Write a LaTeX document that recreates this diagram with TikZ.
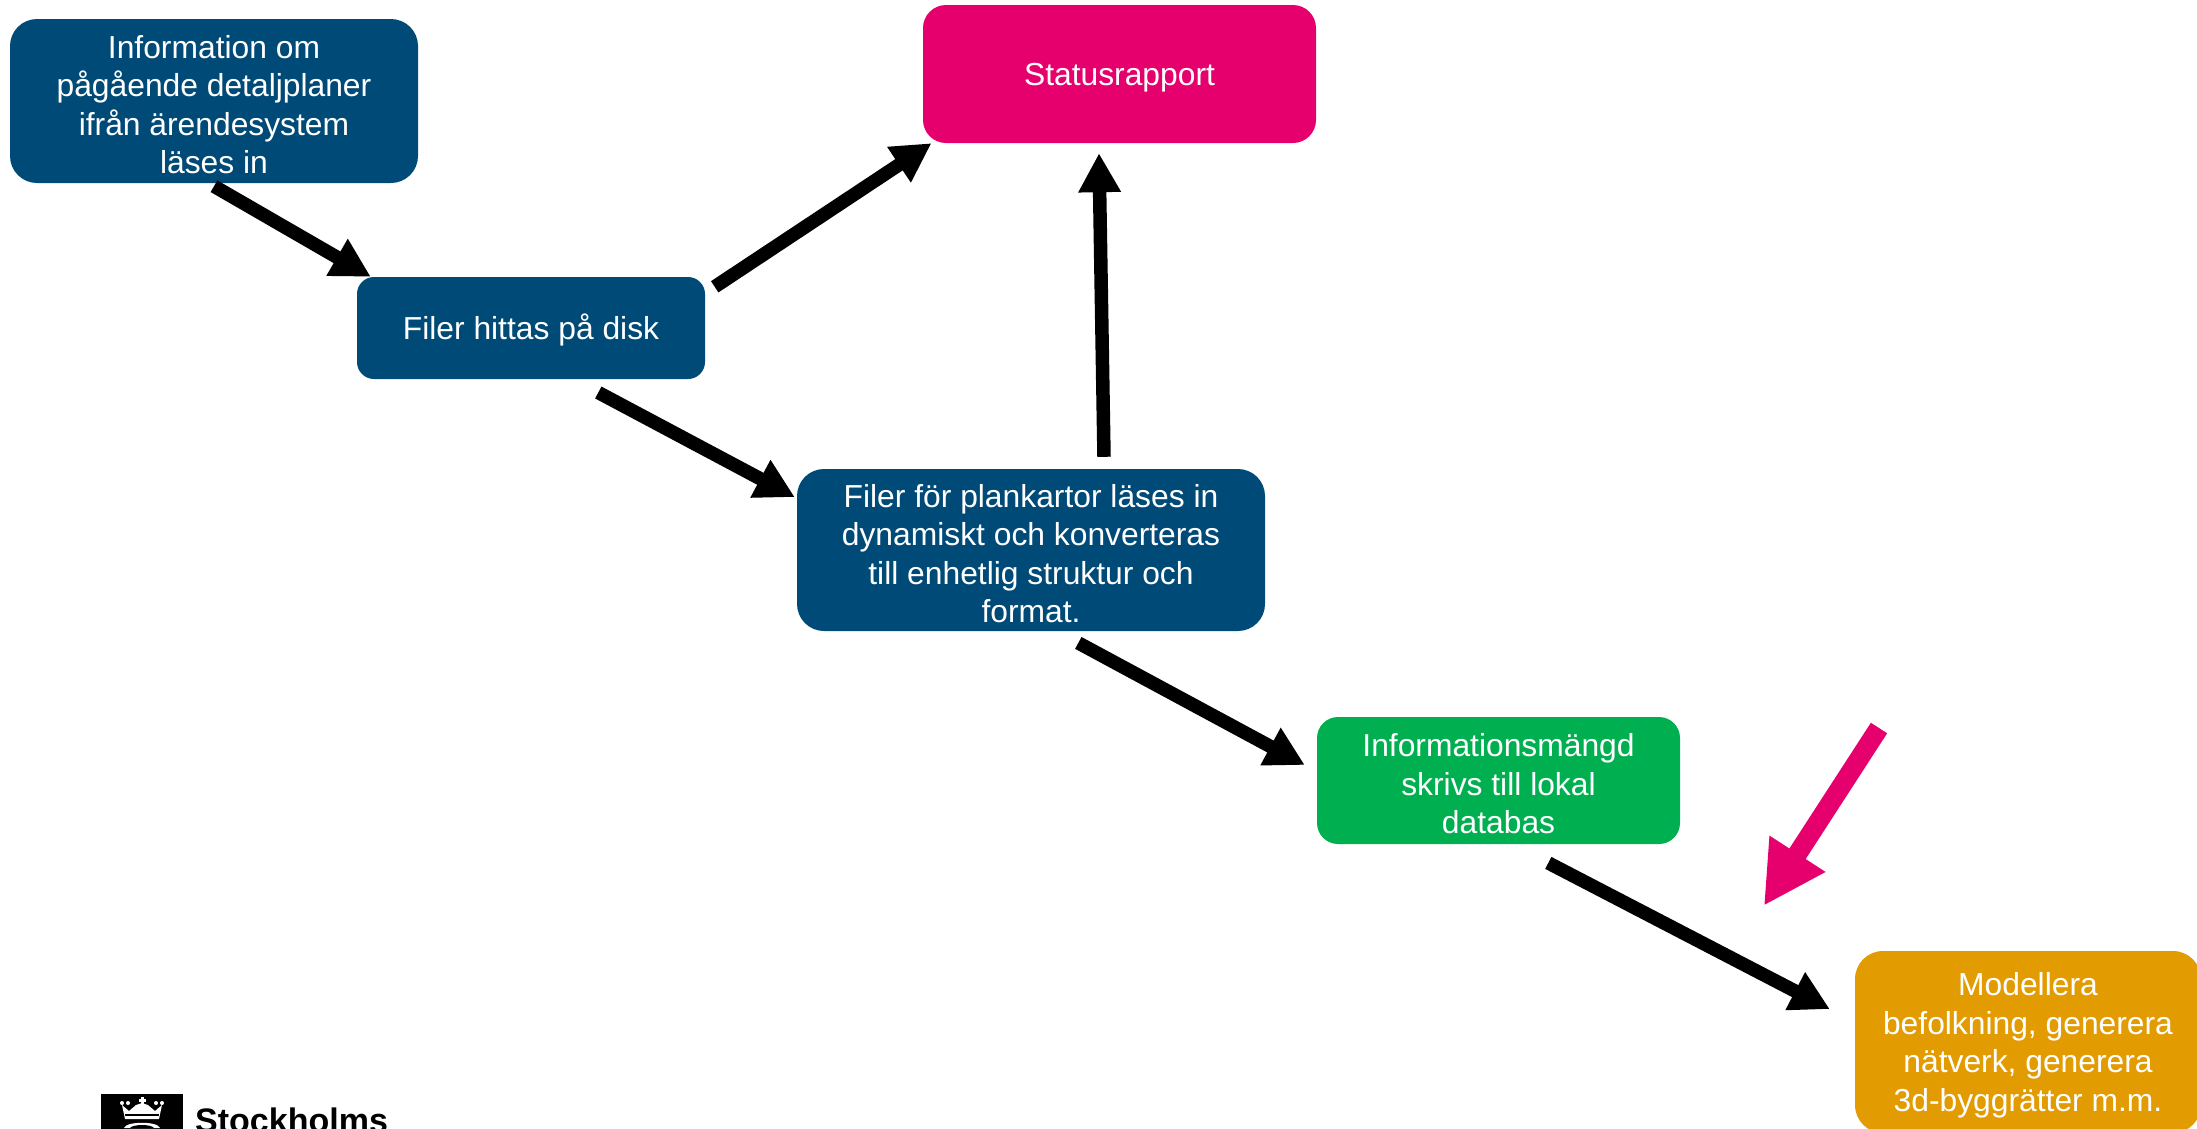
\documentclass[tikz,border=0pt]{standalone}
\usepackage{fontspec}
\setmainfont{Liberation Sans}
\usetikzlibrary{arrows.meta,calc}
\definecolor{sthblue}{RGB}{0,74,119}
\definecolor{sthpink}{RGB}{230,0,110}
\definecolor{sthgreen}{RGB}{0,176,80}
\definecolor{sthorange}{RGB}{226,155,0}
\newcommand{\topstrut}{\rule{0pt}{30pt}}
\begin{document}
\begin{tikzpicture}[x=1pt,y=-1pt,
  box/.style={rectangle, rounded corners=#1, text=white, align=center,
    font=\fontsize{31.8}{38.5}\selectfont, inner sep=0pt},
  conn/.style={line width=13.5pt, black, -{Triangle[width=40pt,length=39pt]}},
  pinkconn/.style={line width=19.4pt, sthpink, -{Triangle[width=62pt,length=62pt]}},
  logotxt/.style={anchor=base west, inner sep=0pt, font=\fontsize{34}{34}\selectfont\bfseries}]
\useasboundingbox (0,0) rectangle (2197,1128);
\clip (0,0) rectangle (2197,1128);

% boxes
\node[box=27pt, fill=sthblue, minimum width=408pt, minimum height=164pt] (b1) at (214,101)
  {\topstrut Information om\\pågående detaljplaner\\ifrån ärendesystem\\läses in};
\node[box=17pt, fill=sthblue, minimum width=348pt, minimum height=102pt] (b2) at (531,328)
  {\topstrut Filer hittas på disk};
\node[box=23pt, fill=sthpink, minimum width=393pt, minimum height=138pt] (b3) at (1119.5,74)
  {\topstrut Statusrapport};
\node[box=27pt, fill=sthblue, minimum width=468pt, minimum height=162pt] (b4) at (1031,550)
  {\topstrut Filer för plankartor läses in\\dynamiskt och konverteras\\till enhetlig struktur och\\format.};
\node[box=21pt, fill=sthgreen, minimum width=363pt, minimum height=127pt] (b5) at (1498.5,780.5)
  {\topstrut Informationsmängd\\skrivs till lokal\\databas};
\node[box=28pt, fill=sthorange, minimum width=346pt, minimum height=182pt] (b6) at (2028,1042)
  {\topstrut Modellera\\befolkning, generera\\nätverk, generera\\3d-byggrätter m.m.};

% connectors
\draw[conn] ($(b1.south)+(0,3)$) -- ($(b2.north west)+(14,0)$);
\draw[conn] ($(b2.north east)+(9.5,10)$) -- ($(b3.south west)+(8.7,0)$);
\draw[conn] ($(b4.north)+(73,-12)$) -- ($(b3.south)+(-20.5,10)$);
\draw[conn] ($(b2.south)+(67.3,13.3)$) -- ($(b4.north west)+(-2,28.3)$);
\draw[conn] ($(b4.south)+(47.3,11.7)$) -- ($(b5.west)+(-12,-15.5)$);
\draw[conn] ($(b5.south)+(49.8,18.7)$) -- ($(b6.north west)+(-25,58.3)$);

% pink pointer
\coordinate (ptail) at (1879,728);
\draw[pinkconn] (ptail) -- ($(b6.north west)+(-91,-45)$);

% logo
\fill[black] (101,1094) rectangle (183,1135);
\fill[white] (122,1105) -- (129,1111) -- (136,1105) -- (142,1103) -- (148,1105) -- (155,1111) -- (162,1105)
  -- (159,1119) -- (125,1119) -- cycle;
\fill[white] (140.5,1097) rectangle (143.5,1104);
\fill[white] (138.5,1099) rectangle (145.5,1101.5);
\foreach \px in {122,128,156,162} {\fill[white] (\px,1103) circle (2pt);}
\fill[black] (125,1114) rectangle (159,1116);
\fill[white] (124,1128) .. controls (126,1121) and (158,1121) .. (160,1128) -- cycle;
\fill[black] (130,1128) .. controls (133,1124) and (151,1124) .. (154,1128) -- cycle;
\node[logotxt] (logotext) at (195,1132) {Stockholms};
\end{tikzpicture}
\end{document}
